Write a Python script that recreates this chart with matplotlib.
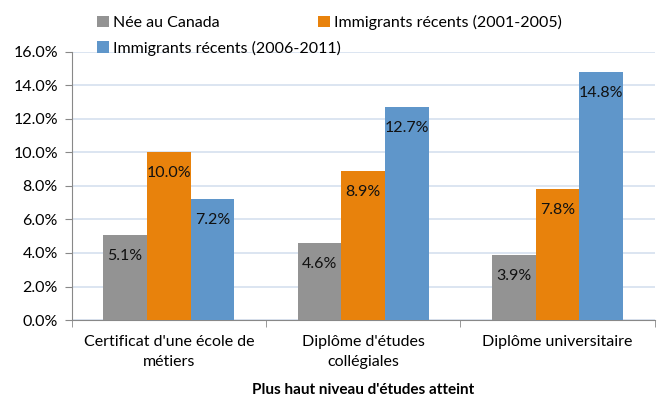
import numpy as np
import matplotlib as mpl
mpl.use('Agg')
import matplotlib.pyplot as plt

plt.rcParams['font.family'] = ['Lato', 'DejaVu Sans']

categories = ["Certificat d'une école de\nmétiers", "Diplôme d'études\ncollégiales", "Diplôme universitaire"]
series_names = ["Née au Canada", "Immigrants récents (2001-2005)", "Immigrants récents (2006-2011)"]
canada = [5.1, 4.6, 3.9]
imm_0105 = [10.0, 8.9, 7.8]
imm_0611 = [7.2, 12.7, 14.8]
colors = ['#939393', '#E8820C', '#5F96CA']

fs = 11.5
fig = plt.figure(figsize=(6.58, 4.0), dpi=100)
ax = fig.add_axes([0.109, 0.2, 0.886, 0.67])

x = np.arange(len(categories))
w = 0.225
handles = []
for i, (vals, name, c) in enumerate(zip([canada, imm_0105, imm_0611], series_names, colors)):
    bars = ax.bar(x + (i - 1) * w, vals, w, color=c, label=name, zorder=3)
    handles.append(bars)
    for b, v in zip(bars, vals):
        ax.text(b.get_x() + b.get_width() / 2, v - 1.25, f"{v:.1f}%", ha='center', va='center',
                fontsize=fs, color='#111111', zorder=4)

ax.set_xlim(-0.5, 2.5)
ax.set_ylim(0, 16)
ax.set_yticks(np.arange(0, 17, 2))
ax.set_yticklabels([f"{t:.1f}%" for t in np.arange(0, 17, 2)], fontsize=fs)
ax.yaxis.grid(True, color='#D6E0EF', linewidth=1.2, zorder=0)
ax.set_xticks(x)
ax.set_xticklabels(categories, fontsize=fs, linespacing=1.55)
ax.tick_params(axis='x', length=0, pad=11)
ax.set_xticks([-0.5, 0.5, 1.5, 2.5], minor=True)
ax.tick_params(axis='x', which='minor', length=5, color='#888888')
ax.tick_params(axis='y', length=5, color='#888888', pad=5)
for s in ['top', 'right']:
    ax.spines[s].set_visible(False)
for s in ['left', 'bottom']:
    ax.spines[s].set_color('#888888')
ax.set_xlabel("Plus haut niveau d'études atteint", fontsize=fs - 0.5, fontweight='bold', labelpad=10)

# legend entries placed like the original (entries overlap the column grid)
legend_pos = [(0.148, 0.943), (0.484, 0.943), (0.148, 0.880)]
for hnd, name, (lx, ly) in zip(handles, series_names, legend_pos):
    leg = fig.legend([hnd], [name], loc='center left', bbox_to_anchor=(lx, ly), frameon=False,
                     fontsize=fs, handlelength=0.7, handleheight=0.7, handletextpad=0.3,
                     borderaxespad=0, borderpad=0)

fig.savefig('out.png', dpi=100)
